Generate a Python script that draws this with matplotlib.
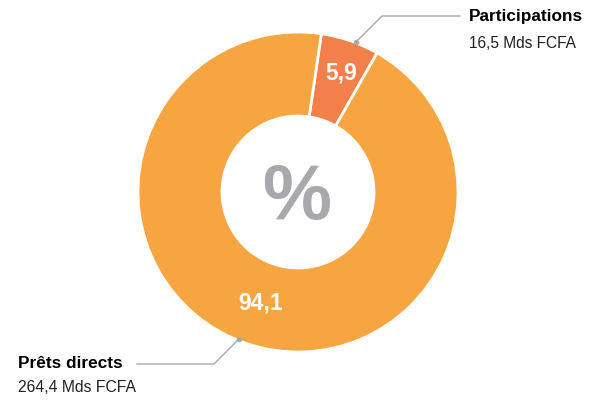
import matplotlib
matplotlib.use("Agg")
import matplotlib.pyplot as plt

# data
categories = ["Participations", "Prêts directs"]
shares = [5.9, 94.1]
share_labels = ["5,9", "94,1"]
amounts = ["16,5 Mds FCFA", "264,4 Mds FCFA"]
colors = ["#F3804A", "#F7A541"]

FONT = ["Liberation Sans Narrow", "Liberation Sans", "DejaVu Sans"]
GREY = "#A7A9AC"

fig = plt.figure(figsize=(5.89, 4.0), dpi=100)
ax = fig.add_axes([0, 0, 1, 1])

center = (298, 208)
radius = 160
wedges, _ = ax.pie(
    shares,
    colors=colors,
    center=center,
    radius=radius,
    startangle=81.6,
    counterclock=False,
    wedgeprops=dict(width=radius * 0.525, edgecolor="white", linewidth=2),
    frame=True,
)
ax.set_xlim(0, 589)
ax.set_ylim(0, 400)
ax.axis("off")

# values on the ring
ax.text(341, 327, share_labels[0], color="white", fontsize=16.5, fontweight="bold",
        family=FONT, ha="center", va="center")
ax.text(261, 97, share_labels[1], color="white", fontsize=16.5, fontweight="bold",
        family=FONT, ha="center", va="center")

ax.text(297, 202, "%", color=GREY, fontsize=56, fontweight="bold",
        family=FONT, ha="center", va="center")

# leader lines
ax.plot([356, 382, 460], [358, 384, 384], color=GREY, linewidth=1)
ax.plot([356], [358], "o", color=GREY, markersize=3)
ax.plot([239, 214, 137], [61, 36, 36], color=GREY, linewidth=1)
ax.plot([239], [61], "o", color=GREY, markersize=3)

ax.text(469, 384, categories[0], fontsize=12.4, fontweight="bold", family=FONT,
        ha="left", va="center", color="black")
ax.text(469, 357, amounts[0], fontsize=11.2, family=FONT, ha="left", va="center",
        color="#231F20")
ax.text(18, 36, categories[1], fontsize=12.4, fontweight="bold", family=FONT,
        ha="left", va="center", color="black")
ax.text(18, 13, amounts[1], fontsize=11.3, family=FONT, ha="left", va="center",
        color="#231F20")

fig.savefig("out.png", dpi=100)
